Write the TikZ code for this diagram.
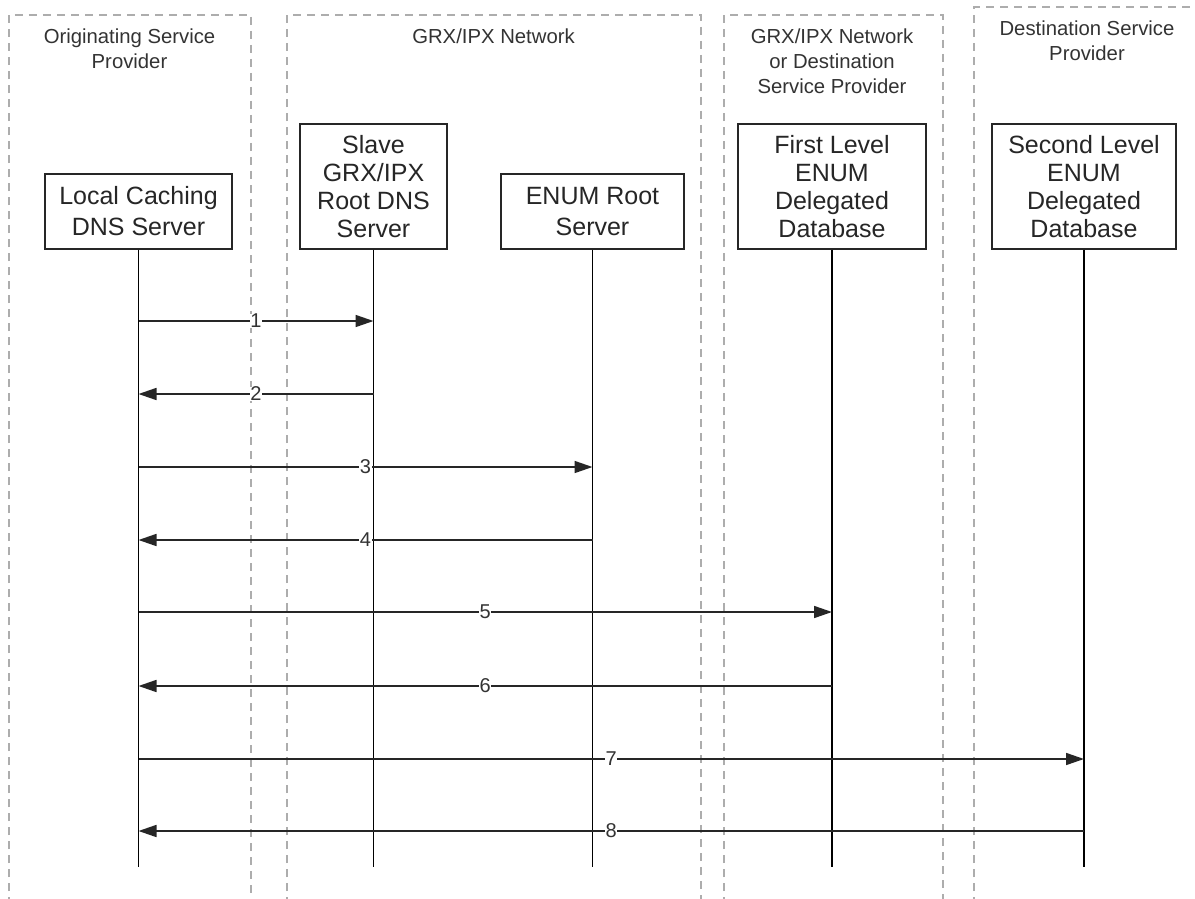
\documentclass[tikz,border=0pt]{standalone}
\usepackage{fontspec}
\setmainfont{Liberation Sans}
\usetikzlibrary{arrows.meta}
\begin{document}
\begin{tikzpicture}[x=1pt,y=-1pt,
  lane/.style={draw=black!32, line width=1.6pt, dash pattern=on 8pt off 6pt},
  actor/.style={draw=black!85, line width=1.4pt, align=center, inner sep=0pt,
    font=\fontsize{25}{28}\selectfont, text=black!85},
  actortwo/.style={actor, font=\fontsize{25}{31}\selectfont},
  heading/.style={align=center, inner sep=0pt, font=\fontsize{20.3}{25}\selectfont, text=black!80},
  life/.style={draw=black, line width=1.1pt},
  msg/.style={draw=black!85, line width=1.6pt, -{Triangle[length=18pt,width=12pt]}},
  lbl/.style={fill=white, inner sep=0.5pt, font=\fontsize{20}{20}\selectfont, text=black!80}
]
\useasboundingbox (0,0) rectangle (1195,899);
\clip (0,0) rectangle (1195,899);
\fill[white] (0,0) rectangle (1195,899);

% swim lanes
\draw[lane] (9,905) -- (9,15) -- (251,15) -- (251,905);
\draw[lane] (287,905) -- (287,15) -- (701,15) -- (701,905);
\draw[lane] (724,905) -- (724,15) -- (943,15) -- (943,905);
\draw[lane] (974,905) -- (974,7) -- (1205,7);

% headings
\node[heading] (h1) at (129.5,49) {Originating Service\\Provider};
\node[heading] (h2) at (493.5,36) {GRX/IPX Network};
\node[heading] (h3) at (832,61) {GRX/IPX Network\\or Destination\\Service Provider};
\node[heading] (h4) at (1087,41) {Destination Service\\Provider};

% actors
\node[actortwo, minimum width=187pt, minimum height=75pt] (local) at (138.5,211.5) {Local Caching\\DNS Server};
\node[actor, minimum width=147pt, minimum height=125pt] (slave) at (373.5,186.5) {Slave\\GRX/IPX\\Root DNS\\Server};
\node[actortwo, minimum width=183pt, minimum height=75pt] (root) at (592.5,211.5) {ENUM Root\\Server};
\node[actor, minimum width=188pt, minimum height=125pt] (first) at (832,186.5) {First Level\\ENUM\\Delegated\\Database};
\node[actor, minimum width=184pt, minimum height=125pt] (second) at (1084,186.5) {Second Level\\ENUM\\Delegated\\Database};

% lifelines
\coordinate (endlocal) at (138.5,867);
\coordinate (endslave) at (373.5,867);
\coordinate (endroot) at (592.5,867);
\coordinate (endfirst) at (832,867);
\coordinate (endsecond) at (1084,867);
\draw[life] (local.south) -- (endlocal);
\draw[life] (slave.south) -- (endslave);
\draw[life] (root.south) -- (endroot);
\draw[life] (first.south) -- (endfirst);
\draw[life] (second.south) -- (endsecond);

% messages
\foreach \n/\y/\xb/\dir in {1/321/373.5/f, 2/394/373.5/b, 3/467/592.5/f, 4/540/592.5/b,
                             5/612/832/f, 6/686/832/b, 7/759/1084/f, 8/831/1084/b}{
  \coordinate (ma\n) at (138.5,\y);
  \coordinate (mb\n) at (\xb,\y);
  \if\dir f
    \draw[msg] (ma\n) -- node[lbl] (l\n) {\n} (mb\n);
  \else
    \draw[msg] (mb\n) -- node[lbl] (l\n) {\n} (ma\n);
  \fi
}
\end{tikzpicture}
\end{document}
